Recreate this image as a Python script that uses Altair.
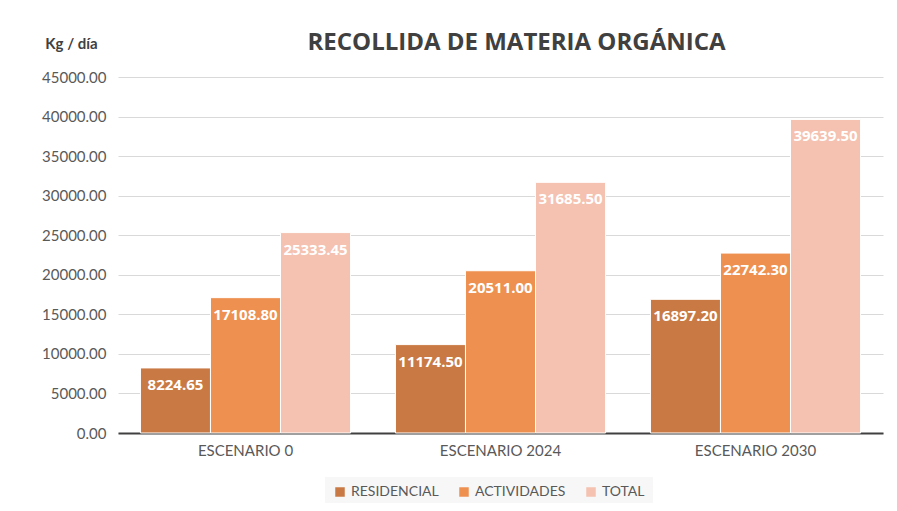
import altair as alt
import pandas as pd

escenarios = ["ESCENARIO 0", "ESCENARIO 2024", "ESCENARIO 2030"]
series = ["RESIDENCIAL", "ACTIVIDADES", "TOTAL"]
residencial = [8224.65, 11174.50, 16897.20]
actividades = [17108.80, 20511.00, 22742.30]
total = [25333.45, 31685.50, 39639.50]
colors = ["#C97A44", "#EE9050", "#F5C1B0"]

rows = []
for i, e in enumerate(escenarios):
    for s, vals in zip(series, [residencial, actividades, total]):
        rows.append({"escenario": e, "serie": s, "valor": vals[i]})
df = pd.DataFrame(rows)

base = alt.Chart(df).encode(
    x=alt.X("escenario:N", sort=escenarios,
            scale=alt.Scale(paddingInner=0.176, paddingOuter=0.088),
            axis=alt.Axis(title=None, labelFont="Lato", labelFontSize=15,
                          labelColor="#595959", ticks=False, domainColor="#404040",
                          domainWidth=2, labelPadding=10, labelAngle=0)),
    xOffset=alt.XOffset("serie:N", sort=series, scale=alt.Scale(paddingInner=0, paddingOuter=0)),
    y=alt.Y("valor:Q", scale=alt.Scale(domain=[0, 45000], nice=False),
            axis=alt.Axis(title="Kg / día", titleAngle=0, titleX=-47, titleY=-34,
                          titleAlign="center", titleBaseline="middle", titleFont="Lato",
                          titleFontSize=15, titleFontWeight="bold", titleColor="#404040",
                          format=".2f", values=list(range(0, 45001, 5000)),
                          labelFont="Lato", labelFontSize=15, labelColor="#595959",
                          ticks=False, domain=False, gridColor="#D9D9D9", labelPadding=12)),
)

bars = base.mark_bar(stroke="white", strokeWidth=1).encode(
    color=alt.Color("serie:N", sort=series,
                    scale=alt.Scale(domain=series, range=colors),
                    legend=alt.Legend(title=None, orient="none", direction="horizontal",
                                      legendX=207, legendY=400, symbolType="square",
                                      symbolSize=90, symbolStrokeWidth=0,
                                      labelFont="Lato", labelFontSize=14,
                                      labelColor="#595959", columnPadding=18,
                                      fillColor="#F7F7F7", padding=8))
)

labels = base.mark_text(color="white", font="Open Sans", fontWeight="bold",
                        fontSize=15, baseline="middle", dy=17).encode(
    text=alt.Text("valor:Q", format=".2f")
)

chart = (bars + labels).properties(
    width=765, height=356,
    title=alt.TitleParams("RECOLLIDA DE MATERIA ORGÁNICA", font="Open Sans",
                          fontSize=24, fontWeight="bold", color="#404040",
                          anchor="middle", dx=16, dy=39, offset=20),
    padding={"left": 110, "top": 69, "right": 6, "bottom": 70},
    autosize=alt.AutoSizeParams(type="none"),
).configure_view(stroke=None)

chart.save("out.html", embed_options={"renderer": "svg", "actions": False})
